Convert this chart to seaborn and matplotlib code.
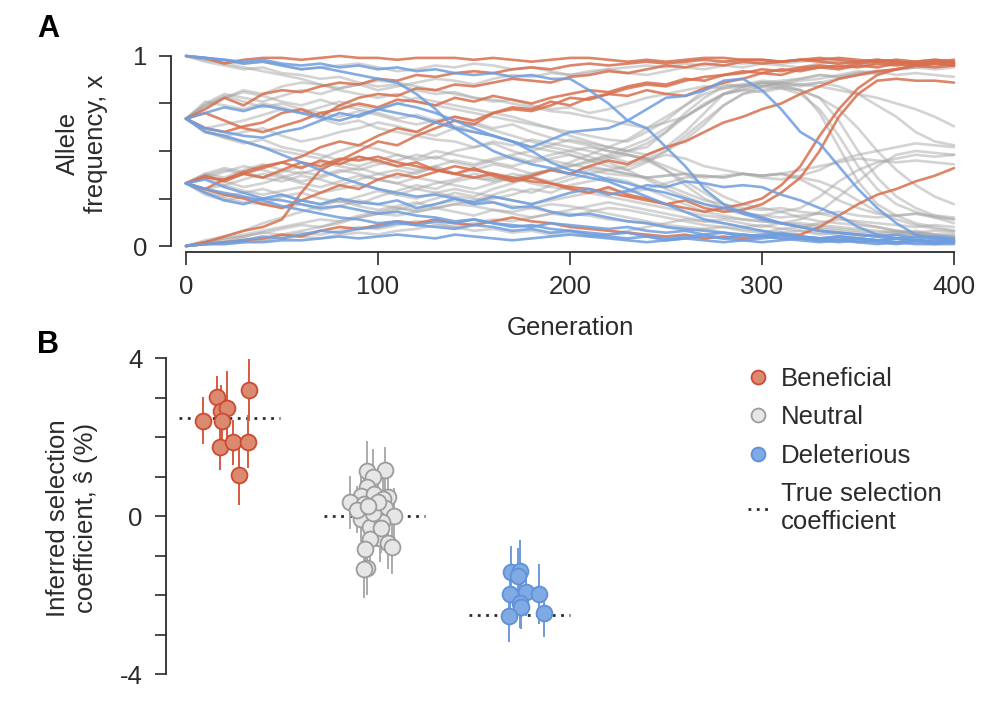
import numpy as np
import pandas as pd
import matplotlib
matplotlib.use("Agg")
import matplotlib.pyplot as plt
from matplotlib.lines import Line2D
import seaborn as sns

# panel A: allele frequency trajectories, one value every GEN_STEP generations
GEN_STEP = 10

BENEFICIAL_TRAJ = [
    [1.00, .99, .96, .98, .99, .99, .98, .99, 1.0, .99, .99, .98, .99, .99, .99, .98, .99, .98, .97, .98,
     .99, .99, .98, .97, .98, .97, .98, .99, .99, .98, .98, .97, .98, .98, .99, .98, .97, .98, .97, .98, .97],
    [.67, .72, .78, .74, .80, .82, .81, .84, .86, .85, .88, .87, .90, .89, .91, .92, .91, .93, .94, .93,
     .95, .96, .95, .96, .97, .96, .97, .98, .97, .98, .98, .97, .98, .99, .98, .97, .98, .97, .96, .97, .96],
    [.67, .62, .60, .63, .65, .70, .72, .68, .74, .78, .80, .79, .83, .82, .85, .84, .86, .88, .87, .86,
     .89, .90, .92, .91, .93, .95, .94, .96, .95, .97, .96, .97, .98, .97, .96, .97, .98, .97, .96, .97, .98],
    [.33, .37, .34, .38, .41, .44, .47, .52, .55, .53, .58, .62, .60, .65, .68, .66, .70, .73, .72, .76,
     .74, .78, .80, .79, .82, .80, .79, .83, .86, .88, .91, .90, .93, .94, .93, .95, .94, .96, .95, .96, .95],
    [.33, .36, .35, .39, .42, .44, .41, .45, .43, .47, .45, .42, .44, .40, .38, .41, .37, .34, .36, .33,
     .30, .28, .31, .27, .25, .22, .24, .20, .18, .19, .22, .28, .36, .50, .68, .80, .87, .88, .87, .87, .86],
    [.00, .02, .05, .08, .10, .14, .28, .40, .45, .50, .55, .53, .58, .62, .66, .64, .70, .72, .71, .74,
     .78, .77, .80, .83, .85, .84, .87, .89, .90, .92, .91, .93, .92, .94, .95, .94, .96, .95, .96, .97, .96],
    [.00, .01, .02, .03, .04, .06, .05, .08, .10, .09, .11, .13, .12, .14, .12, .11, .13, .15, .13, .12,
     .10, .09, .08, .07, .06, .05, .06, .04, .05, .04, .05, .06, .06, .10, .16, .22, .27, .30, .34, .37, .41],
    [.33, .30, .35, .38, .36, .40, .44, .42, .46, .45, .47, .44, .42, .40, .38, .36, .38, .35, .37, .40,
     .38, .42, .45, .43, .48, .52, .55, .60, .65, .68, .72, .75, .80, .84, .88, .90, .92, .93, .95, .94, .95],
    [.67, .70, .66, .62, .60, .63, .66, .70, .72, .75, .73, .77, .76, .74, .78, .76, .79, .77, .75, .78,
     .80, .82, .81, .84, .86, .85, .88, .87, .90, .91, .93, .92, .94, .95, .94, .96, .97, .96, .97, .98, .97],
    [.33, .30, .27, .25, .22, .20, .24, .28, .32, .30, .35, .38, .36, .39, .42, .40, .38, .36, .34, .33,
     .31, .30, .28, .26, .24, .22, .20, .18, .20, .22, .25, .32, .42, .58, .72, .83, .90, .93, .95, .96, .95],
]

DELETERIOUS_TRAJ = [
    [1.0, .99, .98, .97, .98, .96, .95, .96, .94, .95, .93, .94, .92, .93, .91, .90, .91, .89, .90, .88,
     .88, .82, .75, .66, .62, .52, .42, .30, .22, .17, .14, .12, .10, .08, .07, .06, .05, .04, .05, .04, .03],
    [.67, .62, .60, .58, .57, .60, .62, .66, .70, .68, .72, .70, .68, .65, .62, .60, .58, .55, .52, .56,
     .60, .61, .62, .66, .72, .78, .79, .82, .87, .88, .82, .72, .60, .54, .42, .30, .20, .12, .06, .04, .03],
    [.67, .60, .58, .55, .52, .48, .44, .40, .36, .33, .30, .28, .26, .27, .25, .22, .23, .20, .21, .18,
     .16, .17, .15, .13, .12, .10, .09, .08, .07, .06, .05, .06, .05, .04, .05, .04, .03, .04, .03, .02, .03],
    [.33, .28, .24, .22, .25, .24, .22, .20, .21, .19, .17, .18, .16, .15, .13, .14, .12, .10, .11, .09,
     .08, .07, .06, .07, .05, .04, .05, .06, .04, .03, .04, .05, .04, .03, .04, .02, .03, .02, .03, .02, .02],
    [.00, .01, .01, .02, .02, .03, .03, .04, .05, .04, .05, .06, .05, .04, .06, .05, .04, .03, .04, .05,
     .06, .05, .04, .03, .02, .03, .04, .05, .04, .06, .05, .04, .03, .02, .03, .02, .01, .02, .01, .01, .02],
    [.33, .35, .31, .28, .25, .27, .24, .22, .25, .23, .22, .24, .20, .22, .25, .23, .26, .24, .22, .25,
     .28, .30, .27, .29, .32, .31, .34, .33, .31, .32, .31, .27, .24, .20, .16, .10, .06, .04, .03, .03, .02],
    [1.0, .99, .98, .96, .97, .95, .93, .94, .92, .90, .88, .86, .80, .72, .62, .56, .50, .46, .43, .41,
     .38, .36, .34, .30, .26, .22, .18, .14, .12, .10, .08, .06, .05, .04, .05, .04, .03, .04, .03, .02, .03],
    [.67, .70, .73, .71, .74, .72, .70, .68, .66, .69, .72, .75, .73, .70, .66, .62, .58, .55, .50, .44,
     .40, .38, .35, .33, .30, .28, .25, .22, .20, .18, .15, .12, .10, .08, .07, .06, .05, .06, .04, .05, .04],
    [.33, .30, .28, .26, .24, .21, .19, .17, .15, .14, .12, .13, .11, .10, .09, .11, .10, .08, .09, .07,
     .08, .06, .05, .04, .05, .03, .04, .03, .02, .03, .02, .03, .04, .03, .02, .03, .02, .01, .02, .01, .01],
    [.00, .01, .02, .03, .05, .04, .06, .08, .07, .09, .10, .12, .11, .13, .12, .14, .12, .11, .10, .12,
     .11, .10, .09, .10, .08, .07, .08, .06, .07, .05, .06, .07, .05, .04, .03, .04, .03, .02, .03, .02, .02],
]

NEUTRAL_TRAJ = [
    [1.0, .98, .97, .96, .97, .95, .93, .94, .95, .96, .94, .92, .93, .95, .94, .96, .95, .93, .94, .92,
     .90, .91, .93, .94, .95, .94, .96, .95, .97, .96, .97, .96, .97, .98, .97, .96, .97, .98, .97, .96, .97],
    [1.0, .98, .96, .94, .92, .90, .88, .85, .82, .80, .78, .80, .76, .74, .72, .70, .68, .66, .64, .62,
     .60, .58, .56, .55, .60, .66, .74, .82, .85, .84, .86, .85, .82, .70, .52, .34, .22, .16, .12, .10, .08],
    [1.0, .97, .95, .93, .94, .91, .90, .88, .89, .86, .84, .85, .82, .80, .81, .78, .76, .77, .74, .72,
     .73, .70, .72, .75, .78, .80, .82, .84, .83, .85, .84, .86, .85, .84, .82, .80, .78, .75, .72, .68, .63],
    [.67, .75, .80, .78, .76, .79, .82, .80, .83, .85, .82, .84, .86, .88, .87, .85, .88, .90, .89, .91,
     .90, .92, .93, .91, .90, .92, .94, .93, .95, .94, .96, .95, .94, .96, .97, .96, .95, .97, .96, .97, .96],
    [.67, .74, .79, .76, .73, .75, .72, .70, .68, .71, .69, .66, .64, .66, .63, .60, .58, .55, .52, .50,
     .48, .45, .42, .40, .44, .50, .58, .66, .74, .80, .82, .84, .85, .86, .84, .80, .74, .68, .60, .55, .53],
    [.67, .60, .58, .60, .62, .58, .55, .57, .60, .62, .65, .63, .60, .58, .62, .64, .61, .58, .55, .52,
     .50, .47, .44, .40, .35, .30, .26, .22, .19, .17, .16, .18, .20, .26, .34, .40, .44, .46, .48, .47, .48],
    [.67, .61, .57, .55, .52, .50, .48, .46, .50, .53, .51, .48, .45, .47, .44, .42, .45, .47, .44, .46,
     .48, .45, .47, .50, .52, .60, .70, .78, .84, .85, .87, .86, .84, .86, .88, .90, .91, .93, .94, .95, .96],
    [.67, .73, .78, .81, .79, .76, .74, .77, .74, .72, .70, .67, .69, .66, .68, .65, .62, .64, .60, .57,
     .55, .53, .50, .48, .46, .42, .38, .32, .26, .22, .20, .18, .15, .13, .12, .11, .10, .08, .07, .06, .05],
    [.67, .62, .64, .66, .69, .72, .70, .73, .76, .74, .72, .75, .78, .76, .74, .72, .70, .68, .65, .62,
     .58, .55, .52, .50, .48, .52, .60, .70, .80, .83, .85, .84, .82, .78, .66, .50, .36, .26, .20, .16, .14],
    [.67, .76, .74, .72, .75, .73, .70, .67, .64, .66, .62, .60, .58, .56, .55, .52, .54, .50, .47, .45,
     .43, .41, .40, .38, .36, .37, .38, .36, .37, .38, .36, .35, .37, .40, .45, .48, .50, .52, .54, .53, .52],
    [.67, .60, .57, .54, .56, .52, .50, .48, .45, .47, .44, .42, .40, .42, .38, .36, .34, .36, .33, .31,
     .30, .28, .26, .24, .22, .20, .18, .16, .15, .14, .13, .12, .12, .11, .10, .09, .08, .07, .08, .06, .05],
    [.67, .74, .78, .82, .80, .84, .86, .85, .83, .85, .87, .86, .84, .82, .80, .78, .77, .75, .73, .71,
     .70, .68, .66, .64, .62, .65, .68, .74, .80, .84, .86, .87, .88, .90, .89, .91, .92, .90, .91, .90, .89],
    [.33, .37, .40, .38, .36, .39, .42, .44, .42, .40, .43, .45, .48, .46, .50, .52, .55, .53, .56, .54,
     .52, .50, .47, .44, .46, .50, .56, .64, .74, .80, .84, .86, .88, .90, .89, .91, .92, .93, .94, .93, .94],
    [.33, .28, .25, .23, .22, .26, .28, .25, .23, .26, .29, .27, .30, .33, .35, .38, .36, .34, .37, .40,
     .42, .44, .46, .48, .46, .40, .32, .25, .20, .17, .16, .15, .16, .17, .18, .16, .15, .16, .17, .15, .14],
    [.33, .38, .41, .39, .36, .34, .37, .35, .32, .35, .38, .40, .38, .42, .45, .43, .46, .48, .50, .53,
     .56, .54, .52, .50, .54, .60, .68, .75, .80, .82, .84, .83, .80, .72, .58, .42, .30, .22, .18, .15, .12],
    [.33, .36, .32, .29, .27, .29, .31, .28, .30, .32, .30, .27, .25, .28, .30, .28, .26, .24, .22, .24,
     .26, .28, .30, .28, .30, .33, .36, .37, .36, .38, .37, .38, .40, .42, .44, .46, .45, .44, .45, .44, .43],
    [.33, .30, .32, .35, .38, .36, .33, .31, .34, .37, .35, .33, .30, .28, .26, .25, .23, .21, .20, .18,
     .17, .16, .14, .13, .12, .10, .08, .09, .07, .06, .05, .04, .05, .04, .03, .04, .03, .02, .03, .02, .02],
    [.33, .38, .36, .40, .43, .40, .38, .41, .44, .42, .45, .48, .46, .50, .48, .46, .44, .42, .45, .48,
     .50, .52, .50, .48, .45, .40, .34, .28, .22, .18, .15, .12, .10, .09, .08, .07, .06, .05, .06, .05, .04],
    [.33, .27, .24, .26, .23, .20, .22, .19, .21, .24, .22, .20, .18, .20, .22, .24, .27, .30, .28, .32,
     .35, .38, .40, .42, .45, .48, .46, .42, .40, .38, .37, .38, .36, .34, .30, .24, .18, .14, .11, .09, .08],
    [.33, .36, .39, .42, .40, .37, .34, .36, .39, .41, .38, .36, .39, .41, .38, .40, .43, .41, .38, .40,
     .42, .45, .48, .52, .56, .62, .68, .74, .80, .82, .81, .83, .82, .78, .72, .62, .50, .40, .32, .26, .22],
    [.33, .29, .26, .28, .30, .27, .24, .22, .24, .21, .19, .21, .23, .20, .18, .16, .19, .17, .15, .17,
     .19, .21, .23, .21, .19, .17, .15, .13, .14, .12, .10, .12, .14, .18, .26, .34, .42, .48, .50, .49, .48],
    [.33, .37, .34, .31, .33, .36, .39, .37, .40, .38, .35, .33, .36, .34, .32, .30, .33, .36, .38, .40,
     .38, .42, .40, .38, .36, .32, .28, .24, .22, .20, .19, .20, .18, .17, .15, .12, .10, .08, .07, .06, .06],
    [.00, .02, .04, .06, .08, .10, .12, .14, .13, .16, .18, .20, .19, .22, .24, .22, .25, .27, .30, .28,
     .32, .34, .36, .34, .30, .26, .22, .18, .16, .14, .13, .12, .11, .10, .09, .08, .07, .08, .06, .05, .05],
    [.00, .01, .02, .04, .03, .05, .07, .06, .08, .10, .09, .11, .13, .12, .10, .08, .09, .07, .08, .06,
     .07, .05, .06, .08, .10, .12, .14, .13, .12, .10, .11, .09, .08, .07, .06, .05, .06, .07, .06, .05, .04],
    [.00, .03, .05, .08, .12, .15, .18, .21, .24, .22, .26, .29, .32, .30, .34, .36, .35, .38, .36, .34,
     .37, .40, .38, .37, .36, .37, .38, .37, .36, .38, .37, .38, .35, .30, .24, .20, .17, .16, .17, .16, .15],
    [.00, .02, .03, .05, .07, .06, .08, .10, .12, .15, .17, .16, .18, .20, .22, .21, .19, .18, .20, .22,
     .21, .19, .17, .15, .13, .11, .10, .09, .10, .08, .07, .09, .10, .12, .14, .13, .12, .11, .10, .11, .10],
    [.00, .01, .01, .02, .03, .04, .05, .04, .06, .07, .06, .08, .09, .11, .10, .12, .14, .13, .15, .17,
     .16, .18, .20, .19, .17, .15, .13, .11, .10, .09, .08, .07, .08, .06, .07, .06, .05, .06, .07, .08, .07],
    [.00, .02, .04, .05, .07, .09, .11, .10, .13, .15, .17, .19, .22, .25, .28, .26, .30, .33, .36, .40,
     .44, .48, .52, .56, .62, .68, .74, .80, .83, .84, .86, .85, .87, .88, .90, .92, .91, .93, .94, .95, .96],
]

# panel B: inferred selection coefficients (%), error bars, horizontal jitter
CLASSES = ["Beneficial", "Neutral", "Deleterious"]
TRUE_S = [2.5, 0.0, -2.5]

BEN_S = [2.42, 3.03, 2.67, 2.73, 2.40, 1.75, 1.87, 1.89, 3.19, 1.04]
BEN_ERR = [0.59, 0.53, 0.65, 0.95, 0.55, 0.59, 0.57, 0.68, 0.79, 0.76]
BEN_JIT = [-0.185, -0.086, -0.06, -0.017, -0.052, -0.066, 0.024, 0.128, 0.134, 0.066]

NEU_S = [1.16, 1.14, 1.00, 0.75, 0.52, 0.56, 0.50, 0.43, 0.35, 0.30, 0.20, 0.09, -0.07, -0.08, 0.00,
         -0.26, -0.56, -0.58, -0.68, -0.77, -0.84, -1.32, -1.34, -0.14, 0.17, 0.08, 0.35, 0.25, -0.30]
NEU_ERR = [0.60, 0.76, 0.70, 0.65, 0.62, 0.72, 0.68, 0.60, 0.68, 0.66, 0.74, 0.62, 0.70, 0.58, 0.72,
           0.64, 0.59, 0.62, 0.66, 0.70, 0.63, 0.68, 0.72, 0.66, 0.60, 0.75, 0.64, 0.70, 0.62]
NEU_JIT = [0.072, -0.054, -0.010, -0.054, -0.093, -0.003, 0.093, 0.059, -0.169, -0.074, 0.072, -0.052,
           0.017, -0.093, 0.137, -0.031, 0.040, -0.029, 0.091, 0.121, -0.068, -0.054, -0.074, 0.052,
           -0.123, -0.010, 0.024, -0.045, 0.045]

DEL_S = [-1.42, -1.38, -1.50, -1.97, -1.92, -1.97, -2.20, -2.29, -2.52, -2.44]
DEL_ERR = [0.67, 0.78, 0.70, 0.65, 0.60, 0.76, 0.62, 0.57, 0.67, 0.61]
DEL_JIT = [-0.057, 0.003, -0.012, -0.063, 0.045, 0.132, 0.003, 0.008, -0.072, 0.167]

LINE_COLORS = {"Beneficial": "#d8704f", "Neutral": "#a8a8a8", "Deleterious": "#6f9edf"}
FACE_COLORS = {"Beneficial": "#dc8a6f", "Neutral": "#e6e6e6", "Deleterious": "#80aae3"}
EDGE_COLORS = {"Beneficial": "#cc4a32", "Neutral": "#9c9c9c", "Deleterious": "#5f90d8"}
BAR_COLORS = {"Beneficial": "#d65a40", "Neutral": "#ababab", "Deleterious": "#6e9bdc"}
INK = "#2b2b2b"
FS = 18.5


def traj_frame(trajs, kind):
    rows = []
    for i, tr in enumerate(trajs):
        for j, v in enumerate(tr):
            rows.append((f"{kind}{i}", kind, j * GEN_STEP, v))
    return pd.DataFrame(rows, columns=["traj", "kind", "gen", "freq"])


sns.set_style("ticks")
plt.rcParams["font.family"] = ["Liberation Sans", "DejaVu Sans"]
plt.rcParams["axes.unicode_minus"] = False
plt.rcParams["font.size"] = FS

fig = plt.figure(figsize=(10.03, 7.17), dpi=100)
ax_a = fig.add_axes([0.18544, 0.6569, 0.7657, 0.2650])
ax_b = fig.add_axes([0.1655, 0.0596, 0.46, 0.4407])

# ---- panel A
neu_df = traj_frame(NEUTRAL_TRAJ, "Neutral")
sel_df = pd.concat([traj_frame(BENEFICIAL_TRAJ, "Beneficial"),
                    traj_frame(DELETERIOUS_TRAJ, "Deleterious")], ignore_index=True)

sns.lineplot(data=neu_df, x="gen", y="freq", units="traj", estimator=None, sort=False,
             color=LINE_COLORS["Neutral"], alpha=0.5, lw=1.9, legend=False, ax=ax_a)
sns.lineplot(data=sel_df, x="gen", y="freq", hue="kind", units="traj", estimator=None, sort=False,
             palette=LINE_COLORS, alpha=0.85, lw=1.9, legend=False, ax=ax_a)
for ln in ax_a.lines:
    ln.set_clip_on(False)

ax_a.set_xlim(0, 400)
ax_a.set_ylim(0, 1)
ax_a.set_xticks([0, 100, 200, 300, 400])
ax_a.set_yticks([0, 0.25, 0.5, 0.75, 1])
ax_a.set_yticklabels(["0", "", "", "", "1"])
ax_a.set_xlabel("Generation", fontsize=FS, color=INK, labelpad=12)
ax_a.set_ylabel("")
ax_a.tick_params(length=9, width=1.2, pad=8, labelsize=FS, colors=INK)
sns.despine(ax=ax_a, offset={"left": 11, "bottom": 4}, trim=True)
for sp in ("left", "bottom"):
    ax_a.spines[sp].set_color(INK)
    ax_a.spines[sp].set_linewidth(1.3)

# ---- panel B
groups = [(BEN_S, BEN_ERR, BEN_JIT), (NEU_S, NEU_ERR, NEU_JIT), (DEL_S, DEL_ERR, DEL_JIT)]
for k, (name, (s, err, jit)) in enumerate(zip(CLASSES, groups)):
    x = k + np.array(jit)
    ax_b.hlines(TRUE_S[k], k - 0.35, k + 0.35, colors=INK, linestyles=(0, (1, 2)), lw=2, zorder=1)
    ax_b.errorbar(x, s, yerr=err, fmt="none", ecolor=BAR_COLORS[name], elinewidth=1.4, capsize=0, zorder=2)
    pts = pd.DataFrame({"x": x, "s": s})
    sns.scatterplot(data=pts, x="x", y="s", color=FACE_COLORS[name], edgecolor=EDGE_COLORS[name],
                    linewidth=1.3, s=130, zorder=3, ax=ax_b)

ax_b.set_xlim(-0.438, 2 + (0.1655 + 0.46 - 0.518) * 1003 / 145)
ax_b.set_ylim(-4, 4)
ax_b.set_yticks(range(-4, 5))
ax_b.set_yticklabels(["-4", "", "", "", "0", "", "", "", "4"])
ax_b.set_xticks([])
ax_b.set_xlabel("")
ax_b.set_ylabel("")
ax_b.tick_params(axis="y", length=8, width=1.2, pad=9, labelsize=FS, colors=INK)
sns.despine(ax=ax_b, bottom=True)
ax_b.spines["left"].set_color(INK)
ax_b.spines["left"].set_linewidth(1.3)

handles = [Line2D([], [], ls="", marker="o", markersize=10, markerfacecolor=FACE_COLORS[c],
                  markeredgecolor=EDGE_COLORS[c], markeredgewidth=1.3) for c in CLASSES]
handles.append(Line2D([], [], ls=(0, (1, 2)), color=INK, lw=2))
fig.legend(handles, CLASSES + ["True selection\ncoefficient"], loc="upper left",
           bbox_to_anchor=(0.7455, 0.488), frameon=False, handlelength=0.8, handletextpad=0.5,
           labelspacing=0.56, borderpad=0, borderaxespad=0, fontsize=FS, labelcolor=INK)

# labels and panel letters
fig.text(0.0818, 0.80, "Allele\nfrequency, x", rotation=90, ha="center", va="center",
         fontsize=FS, color=INK, multialignment="center")
fig.text(0.0718, 0.2775, "Inferred selection\ncoefficient, ŝ (%)", rotation=90, ha="center",
         va="center", fontsize=FS, color=INK, multialignment="center")
fig.text(0.037, 0.9484, "A", fontsize=22, fontweight="bold", va="baseline", color="black")
fig.text(0.037, 0.5081, "B", fontsize=22, fontweight="bold", va="baseline", color="black")

fig.savefig("out.png", dpi=100)
